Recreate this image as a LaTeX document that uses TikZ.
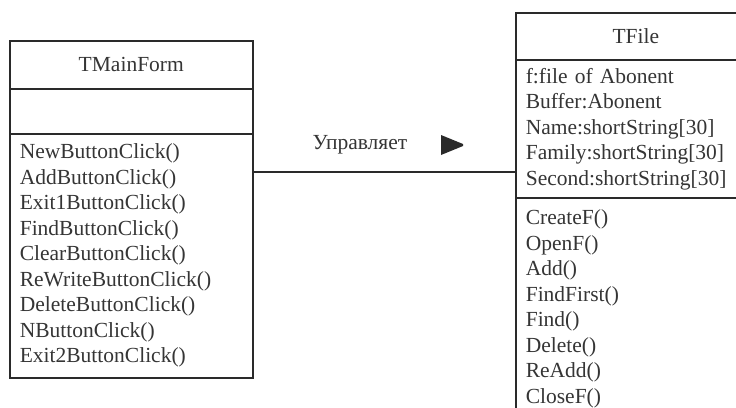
\documentclass[tikz,border=0pt]{standalone}
\usepackage{fontspec}
\setmainfont{Liberation Serif}
\definecolor{txt}{HTML}{353535}
\definecolor{ln}{HTML}{2A2A2A}
\tikzset{
  comp/.style={draw=ln, line width=1.6pt, anchor=north west, inner sep=0pt,
    text=txt, font=\fontsize{21.5}{25.5}\selectfont},
}
\begin{document}
\begin{tikzpicture}[x=1pt,y=-1pt]
\clip (0,0) rectangle (736,407);
\fill[white] (0,0) rectangle (736,407);
% TMainForm
\node[comp, minimum width=243pt, minimum height=48pt] (mainT) at (9,40) {TMainForm};
\node[comp, minimum width=243pt, minimum height=45pt] (mainA) at (9,88) {};
\node[comp, minimum width=243pt, minimum height=244pt, text width=223pt, align=left, inner xsep=10pt] (mainO) at (9,133)
 {NewButtonClick()\\AddButtonClick()\\Exit1ButtonClick()\\FindButtonClick()\\ClearButtonClick()\\ReWriteButtonClick()\\DeleteButtonClick()\\NButtonClick()\\Exit2ButtonClick()};
% TFile
\node[comp, minimum width=240pt, minimum height=47pt, text width=220pt, align=left, inner xsep=0pt] (fileT) at (515,12) {\makebox[220pt][c]{TFile}};
\node[comp, minimum width=240pt, minimum height=138pt, text width=220pt, align=left, inner xsep=10pt] (fileA) at (515,59)
 {f:file of Abonent\\Buffer:Abonent\\Name:shortString[30]\\Family:shortString[30]\\Second:shortString[30]};
\node[comp, minimum width=240pt, minimum height=222pt, text width=220pt, align=left, inner xsep=10pt] (fileO) at (515,197)
 {CreateF()\\OpenF()\\Add()\\FindFirst()\\Find()\\Delete()\\ReAdd()\\CloseF()};
% association
\coordinate (lv) at (0,172);
\draw[ln, line width=1.3pt] (mainO.east |- lv) -- (fileA.west |- lv);
\node[text=txt, font=\fontsize{21.5}{24}\selectfont] (lab) at (360,145) {Управляет};
\coordinate (tri) at (452,145);
\fill[ln] ([shift={(-11,-10)}]tri) -- ([shift={(11,-1)}]tri) -- ([shift={(11,1)}]tri) -- ([shift={(-11,10)}]tri) -- cycle;
\end{tikzpicture}
\end{document}
